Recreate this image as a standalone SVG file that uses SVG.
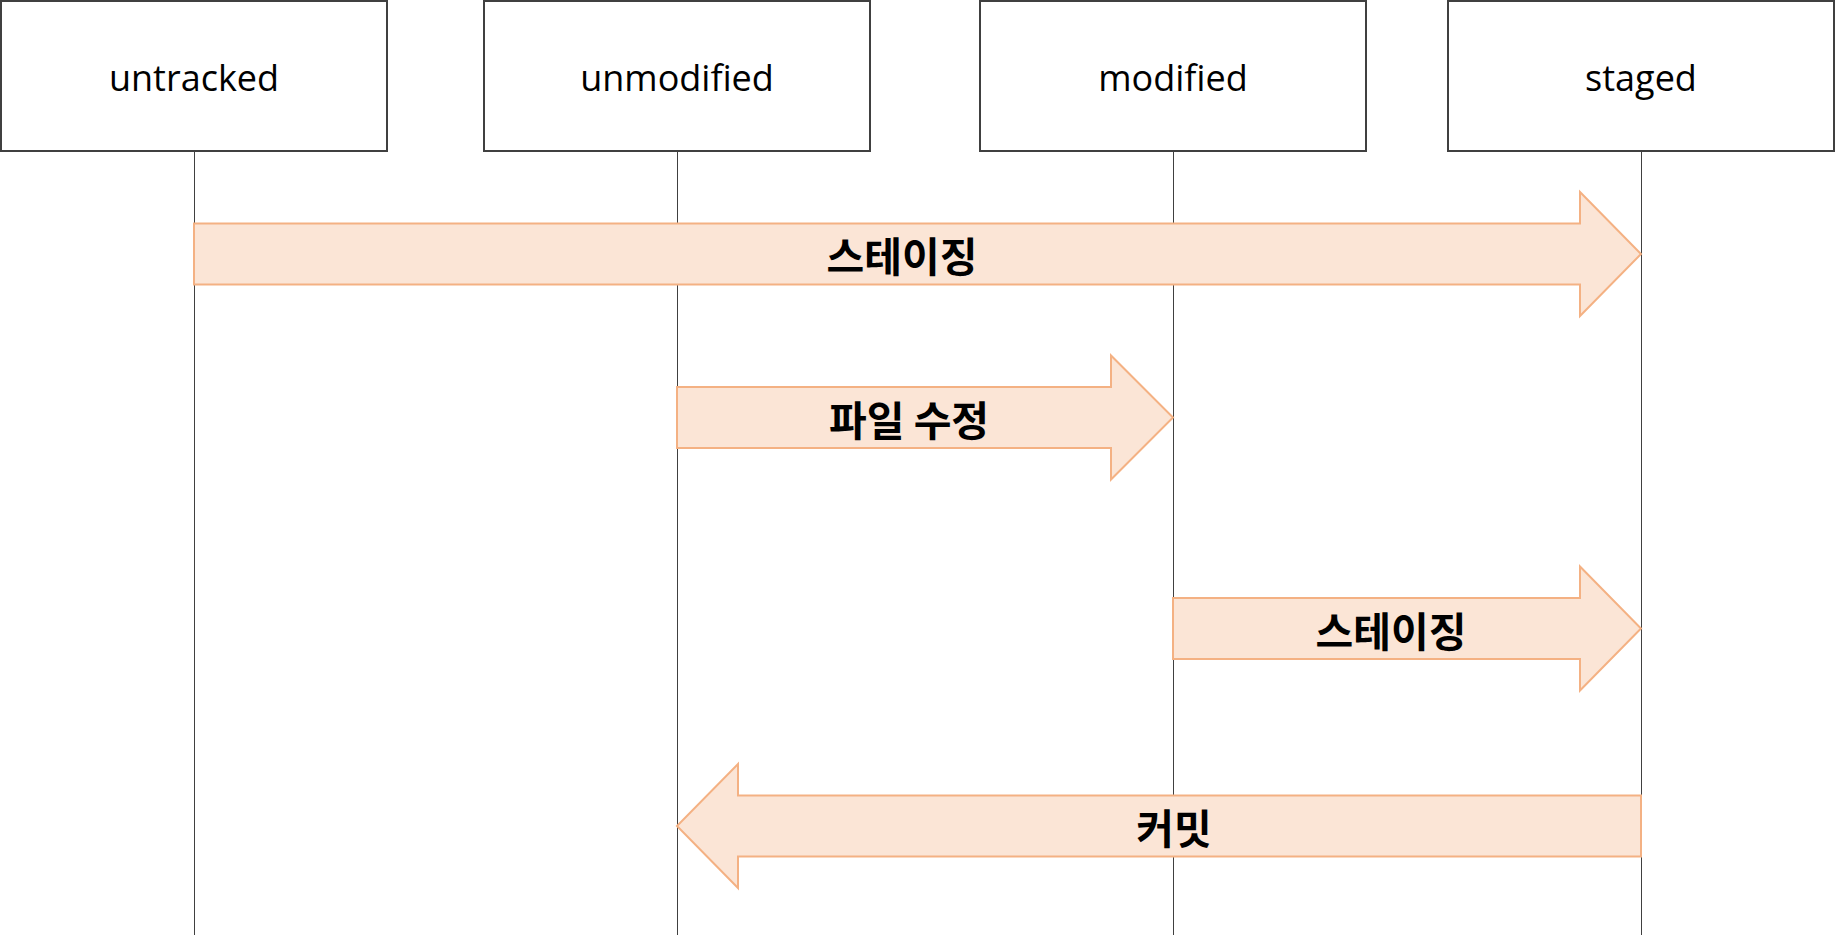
<svg xmlns="http://www.w3.org/2000/svg" width="1835" height="936" viewBox="0 0 1835 936">
<style>
.box{fill:#ffffff;stroke:#404040;stroke-width:2}
.life{stroke:#404040;stroke-width:1;fill:none}
.arrow{fill:#FBE5D6;stroke:#F4B183;stroke-width:2;stroke-linejoin:miter}
.lbl{font-family:"Open Sans","Noto Sans","Liberation Sans",sans-serif;font-size:36px;fill:#000000;text-anchor:middle}
.klbl{font-family:"Noto Sans CJK KR","Noto Sans",sans-serif;font-size:41px;font-weight:bold;fill:#000000;text-anchor:middle;dominant-baseline:central}
</style>
<rect width="1835" height="936" fill="#ffffff"/>
<g id="lifelines">
<line class="life" x1="194.5" y1="151" x2="194.5" y2="935"/>
<line class="life" x1="677.5" y1="151" x2="677.5" y2="935"/>
<line class="life" x1="1173.5" y1="151" x2="1173.5" y2="935"/>
<line class="life" x1="1641.5" y1="151" x2="1641.5" y2="935"/>
</g>
<g id="node-untracked"><rect class="box" x="1" y="1" width="386" height="150"/><text class="lbl" x="194" y="91">untracked</text></g>
<g id="node-unmodified"><rect class="box" x="484" y="1" width="386" height="150"/><text class="lbl" x="677" y="91">unmodified</text></g>
<g id="node-modified"><rect class="box" x="980" y="1" width="386" height="150"/><text class="lbl" x="1173" y="91">modified</text></g>
<g id="node-staged"><rect class="box" x="1448" y="1" width="386" height="150"/><text class="lbl" x="1641" y="91">staged</text></g>
<g id="connectors">
<g id="c1"><polygon class="arrow" points="194,223.5 1580,223.5 1580,192 1641,254 1580,316 1580,284.5 194,284.5"/><text class="klbl" x="902" y="254">스테이징</text></g>
<g id="c2"><polygon class="arrow" points="677,387 1111,387 1111,355.5 1173,417.5 1111,479.5 1111,448 677,448"/><text class="klbl" x="909" y="417.5">파일 수정</text></g>
<g id="c3"><polygon class="arrow" points="1173,598 1580,598 1580,566.5 1641,628.5 1580,690.5 1580,659 1173,659"/><text class="klbl" x="1391" y="628.5">스테이징</text></g>
<g id="c4"><polygon class="arrow" points="1641,795.5 738,795.5 738,764 677,826 738,888 738,856.5 1641,856.5"/><text class="klbl" x="1174" y="826">커밋</text></g>
</g>
</svg>
